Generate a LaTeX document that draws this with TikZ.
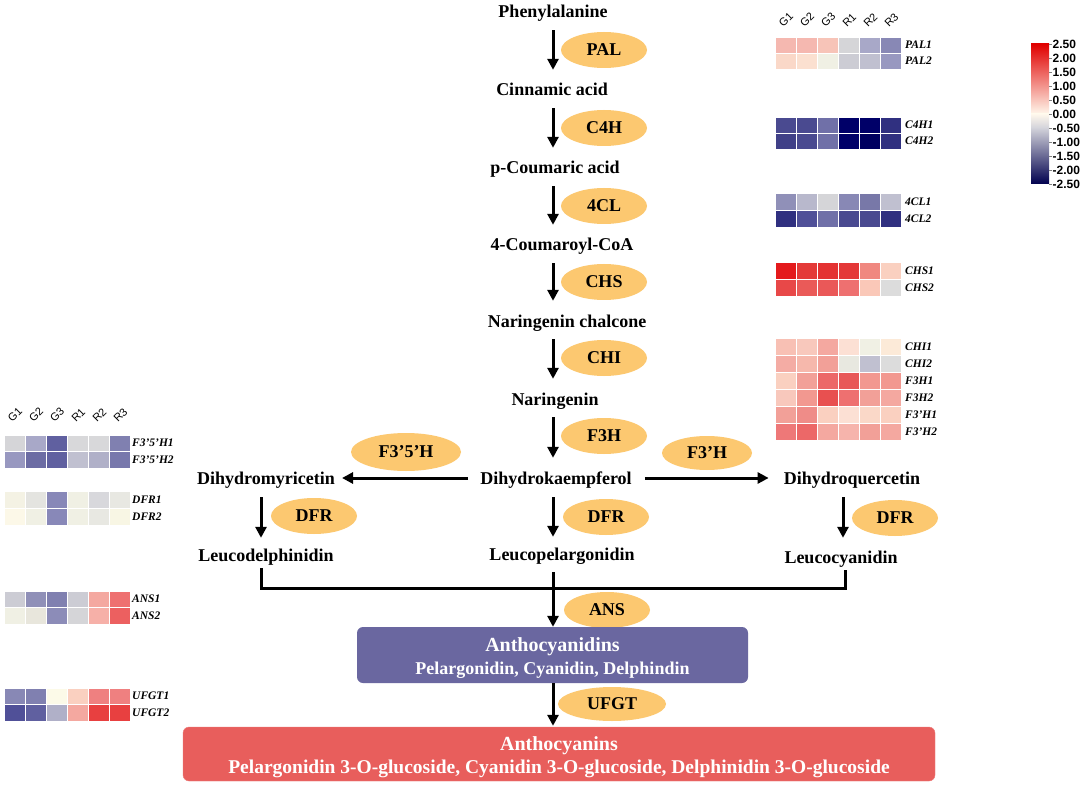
\documentclass[tikz,border=0pt]{standalone}
\usepackage{fontspec}
\setmainfont{Liberation Serif}
\newfontfamily\arialf{Liberation Sans}
\usetikzlibrary{arrows.meta,shapes.geometric}
\definecolor{enzc}{HTML}{FCC870}
\definecolor{boxblue}{HTML}{6A67A0}
\definecolor{boxred}{HTML}{E85E5C}
\definecolor{cbred}{HTML}{E00000}
\definecolor{cbmid}{HTML}{FFF8EC}
\definecolor{cbgrey}{HTML}{D2D2DA}
\definecolor{cbnavy}{HTML}{00004E}
\newcommand\heatrow[4]{\foreach \cc [count=\ii from 0] in {#4}{\definecolor{cellc}{HTML}{\cc}\fill[cellc,draw=white,line width=0.9pt] ({#1+\ii*21.1},#2) rectangle ++(21.1,#3);}}
\begin{document}
\begin{tikzpicture}[x=1pt,y=-1pt,
  met/.style={font=\fontsize{18}{20}\selectfont\bfseries, text height=14pt, text depth=2pt, inner sep=0pt},
  enz/.style={ellipse, fill=enzc, minimum width=86pt, minimum height=36pt, inner sep=0pt, font=\fontsize{18}{20}\selectfont\bfseries},
  arr/.style={line width=3pt, -{Triangle[length=11pt,width=11pt]}},
  joinline/.style={line width=3pt},
  pbox/.style={rounded corners=6pt, inner sep=0pt, align=center, text=white, font=\fontsize{18}{23}\selectfont\bfseries},
  glab/.style={anchor=west, inner sep=0pt, font=\fontsize{11.5}{12}\selectfont\bfseries\itshape},
  hdr/.style={rotate=45, inner sep=0pt, font=\arialf\fontsize{11}{12}\selectfont},
  cblab/.style={anchor=west, inner sep=0pt, font=\arialf\bfseries\fontsize{12}{13}\selectfont}]
\useasboundingbox (0,0) rectangle (1084,786);
\fill[white] (0,0) rectangle (1084,786);
% axes
\coordinate (ax) at (553,0);
\coordinate (axL) at (261,0);
\coordinate (axR) at (843,0);
% metabolites
\node[met] (phe) at (553,12) {Phenylalanine};
\node[met] (cin) at (552,90) {Cinnamic acid};
\node[met] (pcou) at (555,168) {p-Coumaric acid};
\node[met] (cou) at (562,245) {4-Coumaroyl-CoA};
\node[met] (narch) at (567,321) {Naringenin chalcone};
\node[met] (nar) at (555,399) {Naringenin};
\node[met] (dhk) at (556,478) {Dihydrokaempferol};
\node[met] (lpel) at (562,554) {Leucopelargonidin};
\node[met] (dhm) at (266,478) {Dihydromyricetin};
\node[met] (ldel) at (266,555) {Leucodelphinidin};
\node[met] (dhq) at (852,478) {Dihydroquercetin};
\node[met] (lcy) at (841,557) {Leucocyanidin};
% enzymes
\node[enz] (pal) at (604,50) {PAL};
\node[enz] (c4h) at (604,128) {C4H};
\node[enz] (fcl) at (604,206) {4CL};
\node[enz] (chs) at (604,282) {CHS};
\node[enz] (chi) at (604,358) {CHI};
\node[enz] (f3h) at (604,436) {F3H};
\node[enz, minimum width=110pt, minimum height=38pt] (f35h) at (406,452) {F3’5’H};
\node[enz, minimum width=90pt, minimum height=34pt] (f3ph) at (707,453) {F3’H};
\node[enz] (dfrl) at (314,516) {DFR};
\node[enz] (dfrm) at (606,517) {DFR};
\node[enz] (dfrr) at (895,518) {DFR};
\node[enz] (ans) at (607,610) {ANS};
\node[enz, minimum width=108pt, minimum height=34pt] (ufgt) at (612,704) {UFGT};
% boxes
\node[pbox, fill=boxblue, minimum width=391pt, minimum height=56pt] (acd) at (552.5,655)
  {{\fontsize{20}{23}\selectfont\rule{0pt}{20pt}Anthocyanidins}\\Pelargonidin, Cyanidin, Delphindin};
\node[pbox, fill=boxred, draw=boxred!80!white, minimum width=752pt, minimum height=54pt] (acn) at (559,754)
  {{\fontsize{20}{23}\selectfont\rule{0pt}{20pt}Anthocyanins}\\{\fontsize{19.5}{23}\selectfont Pelargonidin 3-O-glucoside, Cyanidin 3-O-glucoside, Delphinidin 3-O-glucoside}};
% main arrows
\draw[arr, shorten <=10pt, shorten >=12pt] (ax |- phe.south) -- (ax |- cin.north);
\draw[arr, shorten <=10pt, shorten >=12pt] (ax |- cin.south) -- (ax |- pcou.north);
\draw[arr, shorten <=10pt, shorten >=12pt] (ax |- pcou.south) -- (ax |- cou.north);
\draw[arr, shorten <=10pt, shorten >=12pt] (ax |- cou.south) -- (ax |- narch.north);
\draw[arr, shorten <=10pt, shorten >=12pt] (ax |- narch.south) -- (ax |- nar.north);
\draw[arr, shorten <=10pt, shorten >=12pt] (ax |- nar.south) -- (ax |- dhk.north);
\draw[arr, shorten <=11pt, shorten >=9pt] (ax |- dhk.south) -- (ax |- lpel.north);
\draw[arr, shorten <=11pt, shorten >=9pt] (axL |- dhm.south) -- (axL |- ldel.north);
\draw[arr, shorten <=11pt, shorten >=11pt] (axR |- dhq.south) -- (axR |- lcy.north);
\draw[arr, shorten <=12pt, shorten >=7pt] (dhk.west) -- (dhm.east);
\draw[arr, shorten <=13pt, shorten >=15pt] (dhk.east) -- (dhq.west);
\coordinate (jl) at (261,588);
\coordinate (jr) at (845,588);
\draw[joinline, shorten <=5pt, shorten >=5pt] (axL |- ldel.south) -- (jl) -- (jr) -- (jr |- lcy.south);
\draw[arr, shorten <=10pt, shorten >=0pt] (ax |- lpel.south) -- (ax |- acd.north);
\draw[arr, shorten <=0pt, shorten >=1pt] (ax |- acd.south) -- (ax |- acn.north);
% right heatmap
\heatrow{775}{37}{16}{F5B8B0,F5B8B0,F7C4B8,D5D5D8,A8A8C8,8888B5}
\heatrow{775}{53}{16}{FAD8C8,FBE0D0,F0F0E4,CCCCD4,C0C0D0,9898C0}
\heatrow{775}{117}{16}{4A4A90,4A4A90,7070A8,000068,000068,303080}
\heatrow{775}{133}{16}{404088,4A4A90,7070A8,000068,000060,303080}
\heatrow{775}{193}{17}{9090B8,B8B8CC,D5D5D8,8888B5,7878A8,C0C0D0}
\heatrow{775}{210}{17}{303080,505098,7070A8,4A4A90,4A4A90,303080}
\heatrow{775}{262}{17}{E41A1C,E43A38,E43232,E43838,F08880,FAD0C0}
\heatrow{775}{279}{17}{E84848,EA5A58,EA5858,EE7070,FAC8B8,DCDCDC}
\heatrow{775}{338}{17}{F8C0B4,F8C8BC,F4A8A0,FCE0D4,F0F0E4,FCEAD8}
\heatrow{775}{355}{17}{F4ACA4,F6B8AC,F2A098,E8E8E0,C0C0D0,DCDCDC}
\heatrow{775}{372}{17}{FAD0C0,F2A098,EC6868,E85858,F29890,F29890}
\heatrow{775}{389}{17}{F8C8BC,F29890,E85050,EE7070,F2A098,F4A8A0}
\heatrow{775}{406}{17}{F2A098,EF8C88,FAD0C0,FCE0D4,FAD8C8,FAD0C0}
\heatrow{775}{423}{17}{EE7878,EC6868,F4A8A0,F6B4AC,F2A098,F4A8A0}
\node[glab] (gpal1) at (905,45) {PAL1};
\node[glab] (gpal2) at (905,61) {PAL2};
\node[glab] (gc4h1) at (905,125) {C4H1};
\node[glab] (gc4h2) at (905,141) {C4H2};
\node[glab] (g4cl1) at (905,201.5) {4CL1};
\node[glab] (g4cl2) at (905,218.5) {4CL2};
\node[glab] (gchs1) at (905,270.5) {CHS1};
\node[glab] (gchs2) at (905,287.5) {CHS2};
\node[glab] (gchi1) at (905,346.5) {CHI1};
\node[glab] (gchi2) at (905,363.5) {CHI2};
\node[glab] (gf3h1) at (905,380.5) {F3H1};
\node[glab] (gf3h2) at (905,397.5) {F3H2};
\node[glab] (gf3ph1) at (905,414.5) {F3'H1};
\node[glab] (gf3ph2) at (905,431.5) {F3'H2};
\foreach \t [count=\i from 0] in {G1,G2,G3,R1,R2,R3}
  \node[hdr] (rh\i) at ({786+\i*21.1},20) {\t};
% left heatmap
\heatrow{4}{435}{16.5}{D5D5D8,A8A8C8,6060A0,D8D8DA,D8D8DA,8080B0}
\heatrow{4}{451.5}{16.5}{9898C0,6C6CA4,6060A0,C0C0D0,B0B0C8,7878AC}
\heatrow{4}{491}{17}{F4F2E4,E4E4E0,8888B8,F0F0E4,D8D8DC,E8E8E2}
\heatrow{4}{508}{17}{FCF8E8,F0F0E4,8888B8,F0F0E4,E8E8E2,F8F6E4}
\heatrow{4}{591}{16.5}{CCCCD4,9090B8,8080B0,CCCCD4,F4A8A0,EE7070}
\heatrow{4}{607.5}{16.5}{F0F0E4,E8E6DC,8C8CB8,D5D5D8,F6B0A8,EC6060}
\heatrow{4}{688}{16.5}{8888B5,8080B0,FCFAE8,FAD0C0,EF8080,EF8080}
\heatrow{4}{704.5}{16.5}{505098,6060A0,B0B0C8,F4A8A0,E84040,E84040}
\node[glab] (gf35h1) at (132,443) {F3'5'H1};
\node[glab] (gf35h2) at (132,460) {F3'5'H2};
\node[glab] (gdfr1) at (132,499.5) {DFR1};
\node[glab] (gdfr2) at (132,516.5) {DFR2};
\node[glab] (gans1) at (132,599) {ANS1};
\node[glab] (gans2) at (132,616) {ANS2};
\node[glab] (gufgt1) at (132,696) {UFGT1};
\node[glab] (gufgt2) at (132,713) {UFGT2};
\foreach \t [count=\i from 0] in {G1,G2,G3,R1,R2,R3}
  \node[hdr] (lh\i) at ({15+\i*21.1},415) {\t};
% colour bar
\shade[top color=cbred, bottom color=cbmid] (1031,44) rectangle (1049,114.3);
\shade[top color=cbmid, bottom color=cbgrey] (1031,114) rectangle (1049,128.3);
\shade[top color=cbgrey, bottom color=cbnavy] (1031,128) rectangle (1049,184);
\foreach \v [count=\i from 0] in {2.50,2.00,1.50,1.00,0.50,0.00,-0.50,-1.00,-1.50,-2.00,-2.50}{
  \draw[line width=0.6pt, gray] (1049,{44+\i*14}) -- (1052,{44+\i*14});
  \node[cblab] (cb\i) at (1052.5,{44+\i*14}) {\v};
}
\end{tikzpicture}
\end{document}
